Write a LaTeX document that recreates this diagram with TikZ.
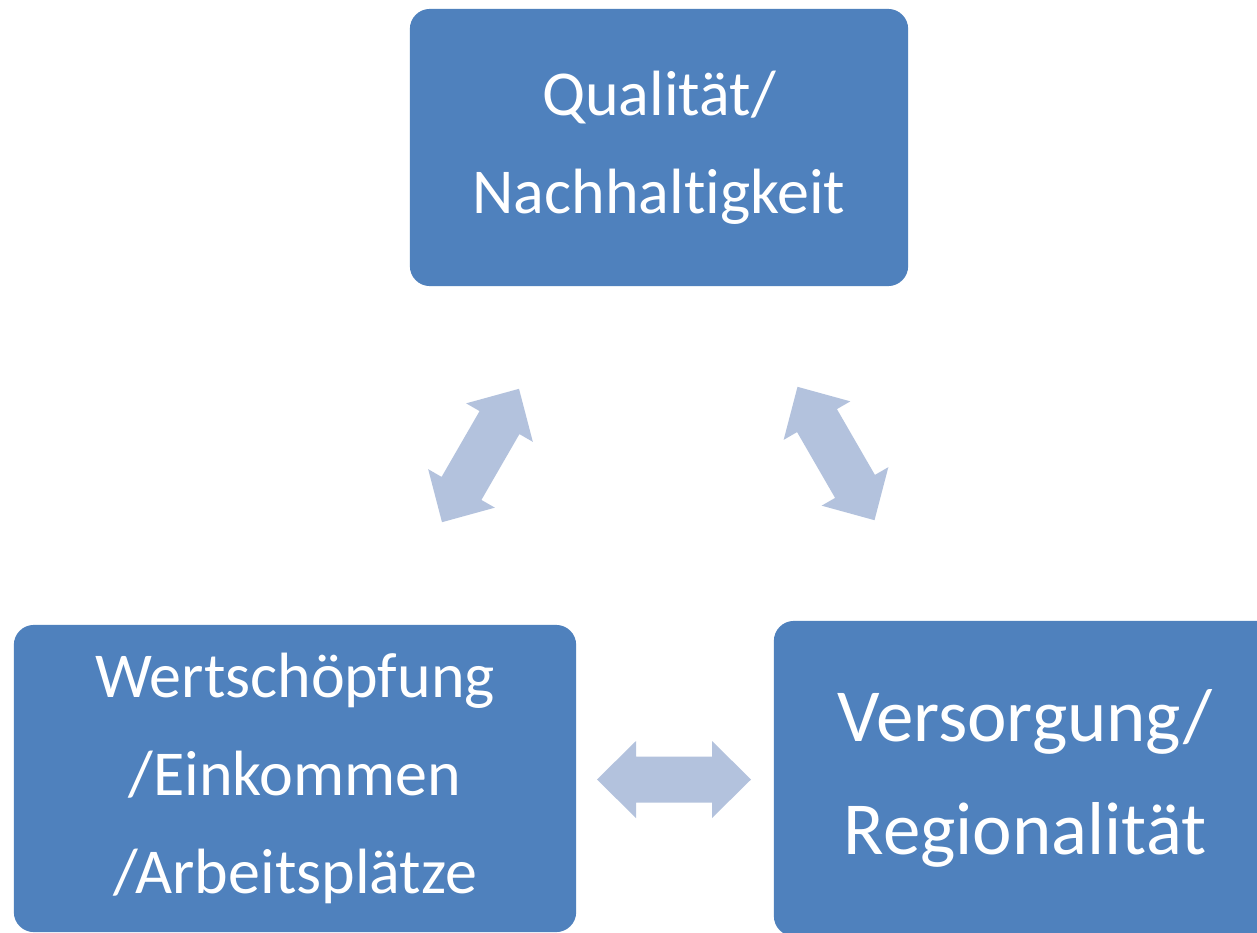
\documentclass[tikz,border=0pt]{standalone}
\usepackage{fontspec}
\setmainfont{Carlito}[Ligatures=NoCommon]
\usetikzlibrary{calc}
\definecolor{BoxClr}{RGB}{79,129,189}
\definecolor{ArrowClr}{RGB}{179,194,221}

\tikzset{
  feld/.style={fill=BoxClr,rounded corners=0.2cm,text=white,align=center,inner sep=0pt},
  pics/twoway/.style={code={
    \fill[ArrowClr] (-77,0) -- (-38,38.5) -- (-38,23) -- (38,23) -- (38,38.5) -- (77,0)
      -- (38,-38.5) -- (38,-23) -- (-38,-23) -- (-38,-38.5) -- cycle;}}
}

\begin{document}
\begin{tikzpicture}[x=0.01cm,y=-0.01cm]
\clip (0,0) rectangle (1257,933);
\fill[white] (0,0) rectangle (1257,933);

% Felder
\node[feld,minimum width=4.98cm,minimum height=2.77cm,font=\fontsize{18.2}{27.9}\selectfont] (Qual) at (659,147.5) {Qualität/\\Nachhaltigkeit};
\node[feld,minimum width=5.62cm,minimum height=3.07cm,font=\fontsize{18.2}{27.9}\selectfont] (Wert) at (295,778.5) {Wertschöpfung\\/Einkommen\\/Arbeitsplätze};
\node[feld,minimum width=5.02cm,minimum height=3.15cm,font=\fontsize{21.3}{32.1}\selectfont] (Vers) at (1025,778.5) {Versorgung/\\Regionalität};

% Pfeile
\coordinate (QW) at (480.5,455.5);
\coordinate (QV) at (836,453.5);
\coordinate (WV) at (674,779.5);
\pic[rotate=60] at (QW) {twoway};
\pic[rotate=-60] at (QV) {twoway};
\pic at (WV) {twoway};

\end{tikzpicture}
\end{document}
